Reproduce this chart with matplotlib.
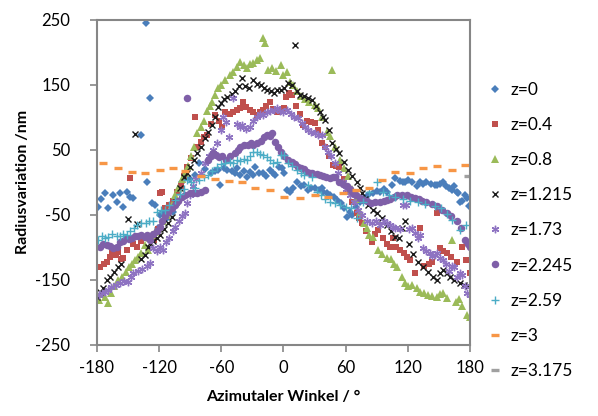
import matplotlib
matplotlib.use("Agg")
import matplotlib.pyplot as plt

plt.rcParams['font.family'] = ['Lato', 'DejaVu Sans']
plt.rcParams['axes.unicode_minus'] = False

# z=0
ang_z0 = [-179, -176, -172, -169, -164, -161, -158, -155, -151, -148, -145, -137, -133, -129, -132, -127,
          -124, -121, -119, -116, -112, -107, -102, -98, -95, -90, -85, -81, -76, -70, -66, -63, -61, -57,
          -54, -50, -47, -45, -42, -38, -35, -32, -29, -27, -24, -20, -17, -13, -10, -8, -4, -1, 1, 3, 6, 9,
          13, 17, 20, 24, 27, 30, 34, 37, 38, 42, 45, 49, 52, 56, 58, 61, 64, 66, 70, 74, 78, 82, 86, 90, 93,
          97, 100, 105, 108, 112, 115, 117, 120, 124, 129, 132, 135, 138, 142, 146, 148, 151, 154, 157, 160,
          163, 165, 167, 168, 170, 172, 175, 177, 179]
val_z0 = [-38, -25, -16, -39, -19, -30, -16, -38, -15, -22, -24, 73, 245, 130, 1, -31,
          -35, -70, -50, -45, -55, -45, -15, 1, 9, 5, 12, 30, 20, 15, 18, 19, -4, 22,
          19, 17, 15, 22, 12, 18, 9, 16, 12, 24, 14, 15, 10, 19, 14, 12, 24, 22, 15, -11, -15, -8,
          0, -6, -4, -11, -9, -8, -12, -8, -15, -17, -19, -23, -27, -31, -40, -53, -46, -50, -38, -30, -24, -20, -17, -13, -15,
          -10, -15, -4, 7, 2, 0, 0, 3, 1, -6, 1, -2, 0, -3, -4, -4, -2, 1, -6, -8,
          -11, -6, -15, -16, -30, -28, -19, -24, -36]

# z=0.4
ang_z04 = [-177, -173, -170, -167, -165, -162, -160, -157, -155, -151, -148, -145, -141, -137, -133, -129,
           -125, -121, -119, -117, -114, -110, -107, -103, -99, -96, -93, -89, -85, -83, -80, -77, -74, -70,
           -66, -62, -59, -56, -52, -49, -45, -42, -39, -36, -32, -29, -26, -23, -20, -17, -13, -10, -6, -3,
           1, 2, 5, 8, 12, 16, 19, 23, 27, 30, 33, 37, 40, 44, 48, 51, 54, 58, 62, 66, 71, 73, 76, 80, 85, 88,
           91, 96, 100, 103, 106, 109, 112, 116, 119, 122, 127, 132, 136, 140, 143, 148, 151, 154, 158, 162,
           167, 172, 176, 180]
val_z04 = [-130, -125, -122, -115, -109, -112, -107, -118, -116, -104, 7, -95, -100, -90, -85, -84,
           -88, -72, -16, -15, -40, -35, -28, -15, -5, 10, 24, 38, 101, 55, 62, 70, 73, 90,
           104, 95, 85, 109, 105, 109, 112, 115, 124, 116, 111, 108, 104, 108, 111, 118, 124, 113, 109, 112,
           115, 132, 138, 135, 118, 105, 88, 95, 93, 91, 80, 61, 55, 40, 27, 25, 24, 5, -15, -30, -47, -55, -62, -75, -91, -80,
           -73, -85, -95, -99, -85, -100, -104, -109, -115, -119, -139, -70, -128, -125, -122, -47, -101, -105, -109, -115,
           -122, -99, -120, -139]

# z=0.8
ang_z08 = [-178, -175, -172, -169, -166, -163, -160, -156, -152, -149, -146, -143, -140, -137, -134, -131,
           -129, -127, -124, -120, -116, -112, -108, -105, -102, -98, -95, -92, -89, -86, -83, -80, -77, -74,
           -71, -69, -66, -63, -60, -56, -52, -49, -45, -42, -38, -35, -32, -29, -26, -23, -20, -18, -15, -11,
           -7, -2, 0, 3, 6, 9, 13, 17, 21, 25, 30, 33, 37, 42, 45, 47, 50, 55, 58, 62, 66, 70, 74, 78, 81, 83,
           86, 91, 95, 100, 104, 107, 110, 114, 117, 120, 124, 129, 132, 136, 139, 143, 148, 151, 154, 158,
           163, 166, 169, 172, 177, 180]
val_z08 = [-181, -172, -177, -185, -170, -160, -150, -145, -138, -130, -126, -119, -115, -108, -96, -104,
           -85, -81, -76, -70, -60, -50, -35, -20, -8, 5, 15, 25, 40, 55, 76, 85, 95, 110,
           118, 124, 135, 145, 150, 158, 165, 170, 178, 185, 180, 176, 182, 184, 188, 192, 222, 214, 173, 176,
           172, 180, 165, 170, 155, 150, 140, 133, 128, 124, 119, 115, 100, 78, 72, 173, 55, 35, 22, 10, -10, -25, -45, -62, -70, -81,
           -84, -104, -110, -116, -118, -125, -130, -145, -155, -160, -158, -163, -168, -170, -173, -175, -176, -172, -170, -178,
           -88, -184, -180, -190, -204, -207]

# z=1.215
ang_z12 = [-180, -177, -174, -170, -167, -163, -160, -157, -150, -143, -141, -137, -134, -131, -129, -126,
           -122, -119, -115, -111, -108, -104, -100, -96, -93, -90, -86, -83, -80, -76, -73, -69, -66, -63,
           -60, -57, -54, -50, -47, -43, -40, -37, -33, -29, -26, -22, -19, -16, -12, -9, -6, -2, 1, 4, 8, 11,
           13, 16, 20, 24, 28, 31, 35, 38, 40, 44, 47, 51, 54, 58, 62, 66, 71, 74, 76, 79, 82, 86, 90, 95, 100,
           104, 108, 111, 114, 117, 121, 125, 130, 135, 139, 144, 148, 151, 154, 158, 161, 165, 170, 174, 178]
val_z12 = [-176, -168, -162, -150, -145, -138, -130, -125, -57, 75, -64, -118, -111, -100, -93, -90,
           -85, -81, -72, -62, -53, -30, -8, 8, 15, 24, 35, 45, 55, 68, 78, 88, 100, 116,
           122, 128, 132, 136, 140, 148, 160, 148, 145, 158, 152, 150, 145, 142, 140, 138, 142, 142, 145, 153, 150, 211,
           140, 135, 133, 130, 127, 118, 109, 100, 96, 80, 61, 52, 45, 32, 19, 10, 0, -8, -16, -25, -35, -42, -47, -55, -65,
           -75, -84, -85, -70, -60, -95, -110, -122, -130, -138, -145, -150, -140, -135, -140, -145, -150, -155, -158, -160]

# z=1.73
ang_z17 = [-178, -175, -172, -169, -166, -162, -158, -154, -150, -147, -145, -140, -136, -132, -129, -126,
           -122, -119, -116, -113, -110, -107, -105, -101, -98, -95, -93, -90, -87, -84, -80, -76, -72, -68,
           -64, -60, -58, -55, -53, -49, -45, -42, -40, -36, -32, -29, -26, -23, -20, -16, -13, -9, -6, -3, 0,
           3, 7, 10, 14, 18, 21, 24, 27, 30, 33, 37, 40, 43, 46, 50, 53, 57, 60, 64, 68, 72, 76, 81, 85, 89, 93,
           97, 100, 103, 106, 108, 112, 115, 118, 121, 124, 127, 130, 132, 135, 138, 141, 143, 146, 148, 151,
           154, 157, 160, 163, 165, 167, 170, 172, 175, 177, 180]
val_z17 = [-173, -170, -168, -165, -161, -158, -155, -152, -153, -145, -139, -136, -134, -128, -124, -101,
           -105, -99, -104, -92, -85, -75, -68, -60, -52, -47, -31, -20, -5, 5, 15, 30, 40, 50,
           60, 80, 101, 93, 70, 130, 90, 85, 88, 82, 85, 95, 101, 106, 104, 108, 110, 112, 115, 110, 108,
           111, 105, 100, 99, 92, 85, 81, 78, 76, 73, 73, 55, 47, 40, 30, 15, 0, -10, -20, -30, -42, -50, -60, -62, -60, -65,
           -60, -62, -65, -68, -70, -72, -35, -35, -72, -70, -78, -85, -81, -101, -105, -109, -114, -112, -109, -116,
           -119, -125, -137, -128, -130, -145, -140, -142, -160, -170, -173]

# z=2.245
ang_z22 = [-177, -174, -170, -167, -164, -161, -158, -155, -152, -149, -146, -143, -140, -137, -134, -132,
           -129, -126, -122, -119, -117, -114, -111, -108, -105, -102, -98, -95, -93, -90, -87, -83, -80, -76,
           -73, -70, -68, -65, -62, -59, -55, -52, -47, -44, -42, -38, -34, -31, -29, -26, -22, -19, -16, -13,
           -11, -8, -5, -2, 1, 4, 8, 11, 14, 17, 20, 23, 26, 28, 32, 35, 38, 41, 45, 48, 50, 54, 57, 61, 64, 67,
           70, 74, 77, 81, 84, 88, 93, 97, 100, 103, 107, 110, 114, 119, 123, 127, 131, 134, 138, 143, 148, 153,
           158, 162, 167, 171, 175, 178, 180]
val_z22 = [-99, -95, -96, -98, -101, -100, -92, -90, -85, -87, -85, -83, -82, -81, -84, -81,
           -88, -80, -75, -68, -60, -52, -45, -40, -35, -28, -22, -19, 130, -16, -17, -16, -15, -12,
           35, 40, 45, 42, 39, 40, 35, 40, 45, 50, 55, 58, 58, 60, 58, 60, 64, 70, 73, 72,
           76, 62, 55, 47, 40, 35, 32, 28, 24, 22, 20, 16, 15, 15, 13, 12, 10, 8, 7, 8, 9, 0, -3, -6, -10, -16,
           -20, -24, -27, -29, -31, -30, -30, -28, -27, -25, -22, -19, -20, -19, -22, -24, -26, -28, -30, -33, -37, -42,
           -47, -52, -60, -70, -88, -95, -99]

# z=2.59
ang_z26 = [-179, -175, -172, -169, -165, -161, -158, -155, -151, -148, -144, -141, -137, -133, -130, -126,
           -122, -118, -114, -110, -105, -100, -96, -93, -89, -85, -81, -77, -73, -69, -64, -60, -56, -52,
           -49, -45, -42, -38, -35, -32, -29, -26, -23, -20, -16, -13, -10, -6, -2, 1, 4, 8, 13, 17, 20, 24,
           28, 32, 36, 40, 45, 50, 55, 60, 65, 71, 77, 83, 90, 96, 102, 108, 115, 122, 130, 137, 146, 152, 158,
           163, 170, 176]
val_z26 = [-88, -82, -86, -84, -80, -83, -82, -80, -81, -75, -70, -65, -63, -62, -60, -60,
           -45, -43, -42, -35, -27, -18, -10, 4, 0, -8, 4, 8, 11, 18, 24, 28, 30, 32,
           30, 35, 33, 36, 35, 40, 47, 47, 44, 42, 39, 35, 30, 32, 42, 42, 30, 25, 19, 15, 12, -4,
           9, -15, -20, -25, -30, -32, -35, -38, -40, -55, -30, -15, 0, -15, -20, -22, -25, -28, -30, -33, -37, -40, -48,
           -58, -73, -65]

# z=3
ang_z3 = [-174, -160, -146, -134, -119, -107, -95, -80, -66, -53, -40, -27, -13, 1, 16, 30, 43, 57,
          70, 83, 95, 108, 122, 135, 148, 163, 175]
val_z3 = [30, 22, 16, 15, 19, 22, 18, 10, 5, 2, 0, -8, -11, -22, -24, -19, -22, -16,
          -12, -8, 4, 16, 15, 22, 25, 19, 27]

# z=3.175
ang_z31 = [178]
val_z31 = [10]

labels = ['z=0', 'z=0.4', 'z=0.8', 'z=1.215', 'z=1.73', 'z=2.245', 'z=2.59', 'z=3', 'z=3.175']
angles = [ang_z0, ang_z04, ang_z08, ang_z12, ang_z17, ang_z22, ang_z26, ang_z3, ang_z31]
values = [val_z0, val_z04, val_z08, val_z12, val_z17, val_z22, val_z26, val_z3, val_z31]

styles = [
    dict(marker='D', color='#4a7ebb', ms=4.4, mew=0),
    dict(marker='s', color='#c0504d', ms=5.0, mew=0),
    dict(marker='^', color='#9bbb59', ms=5.4, mew=0),
    dict(marker='x', color='#1a1a1a', ms=5.0, mew=1.0),
    dict(marker=(6, 2, 0), color='#8e73c2', ms=5.4, mew=1.0),
    dict(marker='o', color='#7f5fa8', ms=5.4, mew=0),
    dict(marker='+', color='#4bacc6', ms=5.4, mew=1.0),
    dict(marker='_', color='#f79646', ms=5.4, mew=2.4),
    dict(marker='_', color='#a0a0a0', ms=5.4, mew=2.4),
]

fig = plt.figure(figsize=(5.98, 4.16), dpi=100)
ax = fig.add_axes([0.162, 0.171, 0.624, 0.781])

for a, v, lab, st in zip(angles, values, labels, styles):
    ax.plot(a, v, linestyle='none', label=lab, **st)

ax.set_xlim(-180, 180)
ax.set_ylim(-250, 250)
ax.set_xticks(range(-180, 181, 60))
ax.set_yticks(range(-250, 251, 100))

grey = '#868686'
for s in ax.spines.values():
    s.set_color(grey)
    s.set_linewidth(1.5)
ax.tick_params(direction='out', length=5, width=1.2, color=grey,
               labelsize=12, labelcolor='black')
ax.tick_params(axis='x', pad=6)
ax.tick_params(axis='y', pad=14)

ax.set_xlabel('Azimutaler Winkel / °', fontsize=11.5, fontweight='bold', labelpad=10)
ax.set_ylabel('Radiusvariation /nm', fontsize=11.5, fontweight='bold', labelpad=4)

fig.legend(loc='center left', bbox_to_anchor=(0.805, 0.446), frameon=False,
           fontsize=12.5, labelspacing=1.1, handlelength=0.6, handletextpad=0.6,
           borderpad=0, numpoints=1)

fig.savefig('out.png', dpi=100)
